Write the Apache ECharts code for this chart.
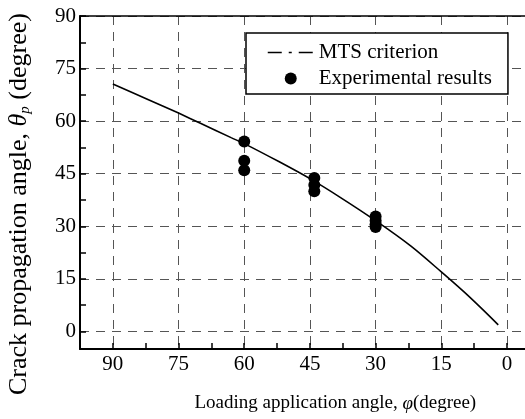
<!DOCTYPE html>
<html>
<head>
<meta charset="utf-8">
<script src="https://cdn.jsdelivr.net/npm/echarts@6/dist/echarts.min.js"></script>
<style>html,body{margin:0;padding:0;background:#fff}#c{width:525px;height:419px}</style>
</head>
<body>
<div id="c"></div>
<script>
// MTS criterion curve
const mtsPhi   = [90, 82, 75, 70, 63, 60, 52, 45, 38, 30, 22, 15, 10, 6, 2];
const mtsTheta = [70.6, 66.2, 62.3, 59.4, 55.3, 53.6, 48.4, 43.6, 38.2, 31.6, 24.4, 17.0, 11.5, 6.8, 1.9];
// Experimental results
const expPhi   = [60, 60, 60, 44, 44, 44, 30, 30, 30, 30];
const expTheta = [54.2, 48.7, 46.0, 43.8, 41.8, 40.0, 32.8, 31.6, 30.6, 29.8];
// tick labels
const xTickLabels = [90, 75, 60, 45, 30, 15, 0];
const yTickLabels = [0, 15, 30, 45, 60, 75, 90];
const yMinorTicks = [0, 7.5, 15, 22.5, 30, 37.5, 45, 52.5, 60, 67.5, 75, 82.5, 90];

const serif = 'Liberation Serif';
const gridLine = {show: true, lineStyle: {color: '#555', width: 1, type: [9, 7]}};

const chart = echarts.init(document.getElementById('c'), null, {renderer: 'canvas'});
chart.setOption({
  animation: false,
  backgroundColor: '#fff',
  grid: {left: 80, top: 16, bottom: 70, right: -47.7, containLabel: false, outerBoundsMode: 'none'},
  legend: {
    show: true,
    left: 246, top: 33,
    orient: 'vertical',
    backgroundColor: '#fff',
    borderColor: '#000', borderWidth: 1.5, borderRadius: 0,
    padding: [9, 16, 5, 21],
    itemWidth: 46, itemHeight: 12, itemGap: 5,
    textStyle: {fontFamily: serif, fontSize: 21, color: '#000'},
    data: [
      {name: 'MTS criterion', itemStyle: {color: 'rgba(0,0,0,0)', borderWidth: 0},
       lineStyle: {type: [14, 7, 3, 7], width: 1.5, color: '#000'}},
      {name: 'Experimental results'}
    ]
  },
  xAxis: [{
    type: 'value', position: 'bottom', inverse: true,
    min: -15, max: 97.5, interval: 7.5,
    axisLine: {show: true, onZero: false, lineStyle: {color: '#000', width: 2}},
    axisTick: {show: true, inside: true, length: 6, lineStyle: {color: '#000', width: 1.5}},
    axisLabel: {
      show: true, margin: 5, color: '#000', fontFamily: serif, fontSize: 21,
      formatter: v => (xTickLabels.indexOf(v) >= 0 ? String(v) : '')
    },
    splitLine: {show: false},
    name: 'Loading application angle, {i|φ}(degree)',
    nameLocation: 'middle', nameGap: 45,
    nameTextStyle: {fontFamily: serif, fontSize: 19, color: '#000', padding: [0, 0, 0, 18],
      rich: {i: {fontFamily: serif, fontStyle: 'italic', fontSize: 19, color: '#000'}}}
  }, {
    type: 'value', position: 'top', inverse: true,
    min: -15, max: 97.5, interval: 15,
    axisLine: {show: true, onZero: false, lineStyle: {color: '#000', width: 1.5}},
    axisTick: {show: false}, axisLabel: {show: false},
    splitLine: gridLine
  }],
  yAxis: [{
    type: 'value', position: 'left',
    min: -5, max: 90, interval: 5,
    axisLine: {show: true, onZero: false, lineStyle: {color: '#000', width: 2}},
    axisTick: {show: true, inside: true, length: 6, customValues: yMinorTicks, lineStyle: {color: '#000', width: 1.5}},
    axisLabel: {show: true, margin: 4, color: '#000', fontFamily: serif, fontSize: 21, customValues: yTickLabels},
    splitLine: {show: false},
    name: 'Crack propagation angle, {i|θ}{s|p} (degree)',
    nameLocation: 'middle', nameGap: 47, nameRotate: 90,
    nameTextStyle: {fontFamily: serif, fontSize: 26, color: '#000', padding: [0, 43, 0, 0],
      rich: {i: {fontFamily: serif, fontStyle: 'italic', fontSize: 26, color: '#000'},
             s: {fontFamily: serif, fontStyle: 'italic', fontSize: 15, color: '#000', verticalAlign: 'bottom', padding: [12, 0, 0, 0]}}}
  }, {
    type: 'value', position: 'right',
    min: -5, max: 90, interval: 5,
    axisLine: {show: false}, axisLabel: {show: false},
    axisTick: {show: false, customValues: yTickLabels},
    splitLine: gridLine
  }],
  series: [{
    name: 'MTS criterion', type: 'line', xAxisIndex: 0, yAxisIndex: 0,
    data: mtsPhi.map((p, i) => [p, mtsTheta[i]]),
    symbol: 'none', smooth: 0.3,
    lineStyle: {color: '#000', width: 1.6},
    itemStyle: {color: '#000'}
  }, {
    name: 'Experimental results', type: 'scatter', xAxisIndex: 0, yAxisIndex: 0,
    data: expPhi.map((p, i) => [p, expTheta[i]]),
    symbol: 'circle', symbolSize: 12,
    itemStyle: {color: '#000', opacity: 1}
  }]
});
</script>
</body>
</html>
